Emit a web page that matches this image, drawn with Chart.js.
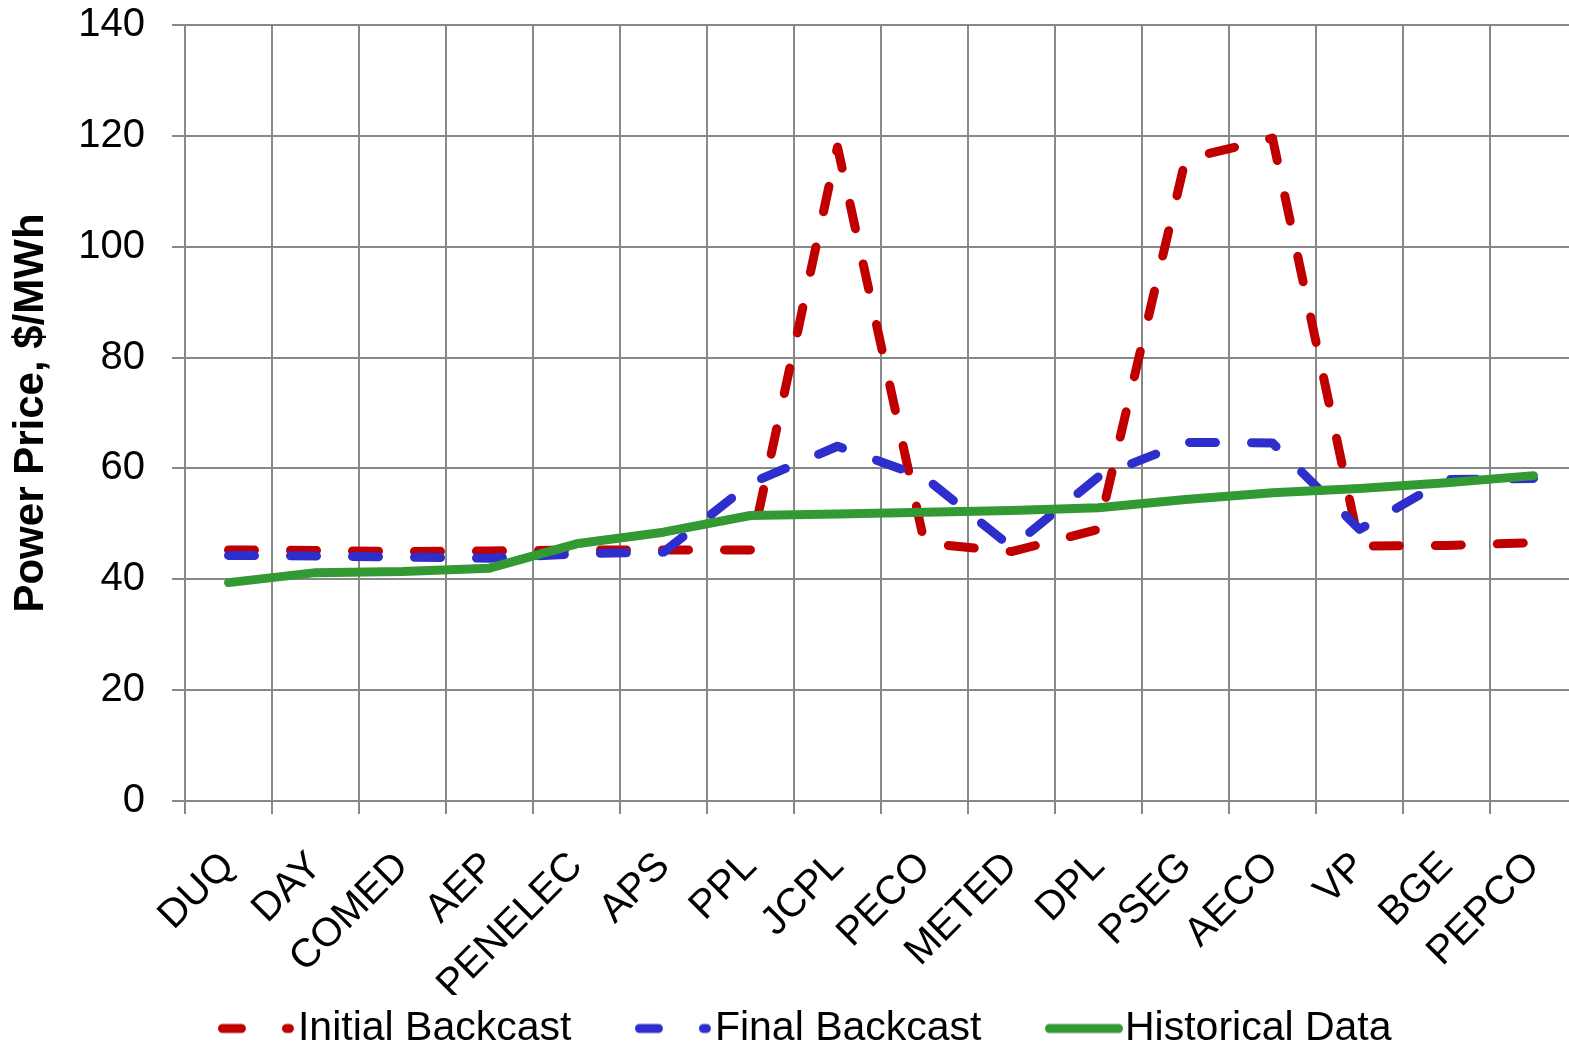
<!DOCTYPE html>
<html>
<head>
<meta charset="utf-8">
<script src="https://cdn.jsdelivr.net/npm/chart.js@4.4.1/dist/chart.umd.min.js"></script>
<style>
  html, body { margin: 0; padding: 0; background: #fff; overflow: hidden; }
  #wrap { width: 1610px; height: 1059px; }
</style>
</head>
<body>
<div id="wrap"><canvas id="chart" width="1610" height="1059"></canvas></div>
<script>
const regions = ['DUQ', 'DAY', 'COMED', 'AEP', 'PENELEC', 'APS', 'PPL', 'JCPL',
  'PECO', 'METED', 'DPL', 'PSEG', 'AECO', 'VP', 'BGE', 'PEPCO'];
const initialBackcast = [45.3, 45.2, 45.0, 45.1, 45.3, 45.3, 45.3, 118.0,
  46.5, 45.0, 49.0, 115.8, 119.6, 46.0, 46.1, 46.6];
const finalBackcast = [44.3, 44.2, 44.0, 43.8, 44.6, 44.9, 57.3, 64.0,
  58.4, 45.8, 58.5, 64.7, 64.6, 49.0, 58.0, 58.2];
const historicalData = [39.4, 41.2, 41.4, 42.0, 46.4, 48.5, 51.5, 51.8,
  52.1, 52.4, 52.9, 54.4, 55.6, 56.4, 57.4, 58.7];
const yTicks = [0, 20, 40, 60, 80, 100, 120, 140];

const gridGrey = '#888888';
const font = 'Liberation Sans, Arial, sans-serif';
const red = '#C00000', blue = '#2E2ECC', green = '#339933';

// legend sample: long dash + dot for the backcasts, plain line for history
function legendSample(color, dashed) {
    const c = document.createElement('canvas');
    c.width = 78; c.height = 12;
    const g = c.getContext('2d');
    g.strokeStyle = color;
    g.lineWidth = 9;
    g.lineCap = 'round';
    g.beginPath();
    if (dashed) {
        g.moveTo(4.5, 6); g.lineTo(23.5, 6);
        g.moveTo(68.5, 6); g.lineTo(71.5, 6);
    } else {
        g.moveTo(4.5, 6); g.lineTo(73.5, 6);
    }
    g.stroke();
    return c;
}
const samples = [legendSample(red, true), legendSample(blue, true), legendSample(green, false)];

// tick labels are clipped to the axis box; let them run down to where the
// reference cuts them off
const labelClip = {
    id: 'labelClip',
    afterLayout(c) { c.scales.x.bottom = 995; },
};

const ctx = document.getElementById('chart').getContext('2d');
const chart = new Chart(ctx, {
    type: 'line',
    data: {
        labels: regions,
        datasets: [
            {
                label: 'Initial Backcast',
                data: initialBackcast,
                borderColor: red,
                borderWidth: 9,
                borderDash: [26, 36],
                borderCapStyle: 'round',
                borderJoinStyle: 'round',
                pointRadius: 0,
                tension: 0,
                order: 3,
            },
            {
                label: 'Final Backcast',
                data: finalBackcast,
                borderColor: blue,
                borderWidth: 9,
                borderDash: [26, 36],
                borderCapStyle: 'round',
                borderJoinStyle: 'round',
                pointRadius: 0,
                tension: 0,
                order: 2,
            },
            {
                label: 'Historical Data',
                data: historicalData,
                borderColor: green,
                borderWidth: 9,
                borderCapStyle: 'round',
                borderJoinStyle: 'round',
                pointRadius: 0,
                tension: 0,
                order: 1,
            },
        ],
    },
    plugins: [labelClip],
    options: {
        responsive: false,
        animation: false,
        devicePixelRatio: 1,
        layout: { padding: { top: 25, left: 51, right: 33, bottom: 0 } },
        plugins: {
            tooltip: { enabled: false },
            legend: {
                position: 'bottom',
                labels: {
                    color: '#000',
                    font: { family: font, size: 41 },
                    usePointStyle: true,
                    pointStyleWidth: 41,
                    padding: 82,
                    sort: (a, b) => a.datasetIndex - b.datasetIndex,
                    generateLabels: (c) => {
                        const items = Chart.defaults.plugins.legend.labels.generateLabels(c);
                        items.forEach(it => { it.pointStyle = samples[it.datasetIndex]; });
                        return items;
                    },
                },
            },
        },
        scales: {
            x: {
                type: 'category',
                offset: true,
                afterFit: (s) => { s.height = 125; },
                grid: { offset: true, color: gridGrey, lineWidth: 2, tickLength: 13, drawTicks: true },
                border: { color: gridGrey, width: 2 },
                ticks: {
                    color: '#000',
                    font: { family: font, size: 40 },
                    minRotation: 45,
                    maxRotation: 45,
                    autoSkip: false,
                    padding: 29,
                },
            },
            y: {
                min: 0,
                max: 140,
                afterFit: (s) => { s.width = 134; s.paddingTop = 0; s.paddingBottom = 0; },
                afterBuildTicks: (s) => { s.ticks = yTicks.map(v => ({ value: v })); },
                grid: { color: gridGrey, lineWidth: 2, tickLength: 13 },
                border: { color: gridGrey, width: 2 },
                ticks: {
                    color: '#000',
                    font: { family: font, size: 40 },
                    padding: 27,
                },
                title: {
                    display: true,
                    text: 'Power Price, $/MWh',
                    color: '#000',
                    font: { family: font, size: 42, weight: 'bold' },
                    padding: { top: -45, bottom: 0 },
                },
            },
        },
    },
});
</script>
</body>
</html>
